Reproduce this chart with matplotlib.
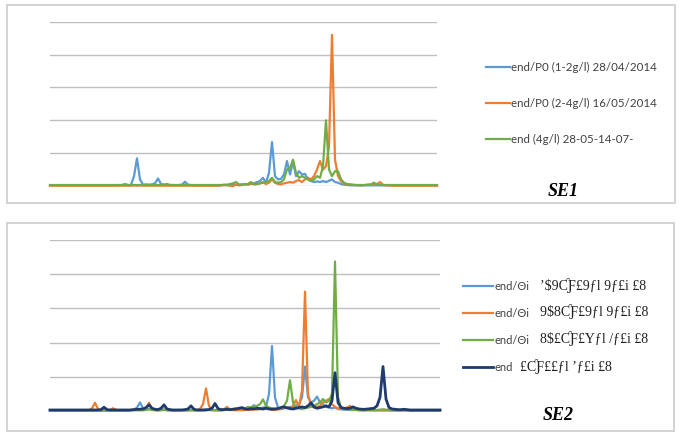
import numpy as np
import matplotlib
matplotlib.use("Agg")
import matplotlib.pyplot as plt
from matplotlib.patches import Rectangle

# colours (Excel default palette)
c_blue = '#5B9BD5'
c_orange = '#ED7D31'
c_green = '#70AD47'
c_navy = '#1F3A6E'

# ---- SE1 (top panel), 130 samples ----
se1_labels = ['end/P0 (1-2g/l) 28/04/2014',
              'end/P0 (2-4g/l) 16/05/2014',
              'end (4g/l) 28-05-14-07-']

se1_blue = [
    0.02, 0.02, 0.02, 0.02, 0.02, 0.02, 0.02, 0.02, 0.02, 0.02,
    0.02, 0.02, 0.02, 0.02, 0.02, 0.02, 0.02, 0.02, 0.02, 0.02,
    0.02, 0.02, 0.02, 0.03, 0.03, 0.06, 0.03, 0.03, 0.30, 0.84,
    0.20, 0.04, 0.05, 0.04, 0.05, 0.08, 0.23, 0.06, 0.04, 0.03,
    0.03, 0.03, 0.02, 0.03, 0.04, 0.13, 0.04, 0.03, 0.02, 0.02,
    0.02, 0.02, 0.02, 0.02, 0.02, 0.02, 0.02, 0.02, 0.03, 0.03,
    0.03, 0.04, 0.04, 0.03, 0.05, 0.06, 0.05, 0.06, 0.08, 0.12,
    0.15, 0.25, 0.10, 0.40, 1.34, 0.30, 0.20, 0.22, 0.35, 0.76,
    0.35, 0.74, 0.30, 0.45, 0.35, 0.37, 0.20, 0.15, 0.12, 0.14,
    0.12, 0.15, 0.12, 0.16, 0.20, 0.12, 0.10, 0.06, 0.04, 0.03,
    0.02, 0.02, 0.02, 0.02, 0.02, 0.02, 0.02, 0.02, 0.02, 0.02,
    0.02, 0.02, 0.02, 0.02, 0.02, 0.02, 0.02, 0.02, 0.02, 0.02,
    0.02, 0.02, 0.02, 0.02, 0.02, 0.02, 0.02, 0.02, 0.02, 0.02,
]
se1_orange = [
    0.01, 0.01, 0.01, 0.01, 0.01, 0.01, 0.01, 0.01, 0.01, 0.01,
    0.01, 0.01, 0.01, 0.01, 0.01, 0.01, 0.01, 0.01, 0.01, 0.01,
    0.01, 0.01, 0.01, 0.01, 0.01, 0.01, 0.01, 0.01, 0.02, 0.01,
    0.02, 0.01, 0.01, 0.01, 0.01, 0.01, 0.01, 0.01, 0.01, 0.01,
    0.01, 0.01, 0.01, 0.01, 0.01, 0.01, 0.01, 0.01, 0.01, 0.01,
    0.01, 0.01, 0.01, 0.01, 0.01, 0.01, 0.01, 0.02, 0.03, 0.02,
    0.01, 0.00, 0.04, 0.02, 0.03, 0.06, 0.04, 0.08, 0.05, 0.06,
    0.08, 0.12, 0.06, 0.10, 0.20, 0.10, 0.06, 0.05, 0.08, 0.10,
    0.12, 0.10, 0.15, 0.18, 0.12, 0.20, 0.25, 0.20, 0.30, 0.50,
    0.76, 0.50, 0.60, 1.20, 4.60, 0.80, 0.30, 0.15, 0.08, 0.05,
    0.04, 0.03, 0.03, 0.02, 0.02, 0.03, 0.04, 0.03, 0.04, 0.06,
    0.12, 0.04, 0.02, 0.02, 0.01, 0.01, 0.01, 0.01, 0.01, 0.01,
    0.01, 0.01, 0.01, 0.01, 0.01, 0.01, 0.01, 0.01, 0.01, 0.01,
]
se1_green = [
    0.03, 0.03, 0.03, 0.03, 0.03, 0.03, 0.03, 0.03, 0.03, 0.03,
    0.03, 0.03, 0.03, 0.03, 0.03, 0.03, 0.03, 0.03, 0.03, 0.03,
    0.03, 0.03, 0.03, 0.03, 0.03, 0.03, 0.03, 0.03, 0.03, 0.03,
    0.03, 0.03, 0.03, 0.03, 0.03, 0.03, 0.03, 0.03, 0.04, 0.06,
    0.03, 0.03, 0.03, 0.03, 0.03, 0.03, 0.03, 0.03, 0.03, 0.03,
    0.03, 0.03, 0.03, 0.03, 0.03, 0.03, 0.03, 0.03, 0.04, 0.04,
    0.06, 0.08, 0.12, 0.05, 0.04, 0.05, 0.06, 0.12, 0.05, 0.06,
    0.08, 0.10, 0.12, 0.15, 0.25, 0.12, 0.10, 0.12, 0.20, 0.50,
    0.55, 0.80, 0.40, 0.25, 0.30, 0.25, 0.20, 0.15, 0.20, 0.30,
    0.25, 0.60, 2.00, 0.50, 0.30, 0.45, 0.45, 0.20, 0.10, 0.06,
    0.05, 0.04, 0.03, 0.03, 0.03, 0.03, 0.04, 0.05, 0.10, 0.04,
    0.03, 0.03, 0.03, 0.03, 0.03, 0.03, 0.03, 0.03, 0.03, 0.03,
    0.03, 0.03, 0.03, 0.03, 0.03, 0.03, 0.03, 0.03, 0.03, 0.03,
]

# ---- SE2 (bottom panel), 131 samples ----
se2_head = ['end/Θi', 'end/Θi', 'end/Θi', 'end']
se2_tail = ['ʼ$9ƇƑ£9ƒl 9ƒ£i £8',
            '9$8ƇƑ£9ƒl 9ƒ£i £8',
            '8$£ƇƑ£Yƒl /ƒ£i £8',
            '£ƇƑ££ƒl ʼƒ£i £8']

se2_blue = [
    0.02, 0.02, 0.02, 0.02, 0.02, 0.02, 0.02, 0.02, 0.02, 0.02,
    0.02, 0.02, 0.02, 0.02, 0.02, 0.03, 0.02, 0.02, 0.02, 0.02,
    0.02, 0.03, 0.02, 0.02, 0.02, 0.02, 0.02, 0.03, 0.04, 0.10,
    0.25, 0.08, 0.04, 0.06, 0.04, 0.03, 0.04, 0.06, 0.04, 0.03,
    0.02, 0.02, 0.02, 0.03, 0.03, 0.02, 0.02, 0.03, 0.03, 0.02,
    0.02, 0.03, 0.05, 0.03, 0.02, 0.03, 0.03, 0.02, 0.03, 0.04,
    0.03, 0.03, 0.04, 0.05, 0.06, 0.05, 0.08, 0.10, 0.17, 0.10,
    0.08, 0.10, 0.12, 0.50, 1.90, 0.40, 0.10, 0.06, 0.08, 0.10,
    0.12, 0.10, 0.15, 0.20, 0.40, 1.30, 0.40, 0.25, 0.30, 0.42,
    0.25, 0.20, 0.12, 0.10, 0.08, 0.10, 0.06, 0.05, 0.04, 0.04,
    0.03, 0.03, 0.03, 0.02, 0.02, 0.02, 0.02, 0.02, 0.02, 0.02,
    0.02, 0.02, 0.02, 0.02, 0.02, 0.02, 0.02, 0.02, 0.02, 0.02,
    0.02, 0.02, 0.02, 0.02, 0.02, 0.02, 0.02, 0.02, 0.02, 0.02,
    0.02,
]
se2_orange = [
    0.02, 0.02, 0.02, 0.02, 0.02, 0.02, 0.02, 0.02, 0.02, 0.02,
    0.02, 0.02, 0.02, 0.02, 0.08, 0.24, 0.06, 0.02, 0.02, 0.02,
    0.03, 0.08, 0.03, 0.02, 0.02, 0.02, 0.02, 0.03, 0.05, 0.04,
    0.05, 0.04, 0.06, 0.24, 0.06, 0.03, 0.02, 0.03, 0.04, 0.03,
    0.02, 0.02, 0.02, 0.02, 0.02, 0.03, 0.02, 0.02, 0.02, 0.03,
    0.06, 0.20, 0.66, 0.15, 0.03, 0.02, 0.02, 0.03, 0.05, 0.12,
    0.04, 0.03, 0.02, 0.03, 0.02, 0.03, 0.04, 0.03, 0.05, 0.04,
    0.06, 0.08, 0.10, 0.06, 0.04, 0.03, 0.05, 0.06, 0.08, 0.10,
    0.08, 0.15, 0.32, 0.12, 0.60, 3.49, 0.50, 0.15, 0.10, 0.12,
    0.15, 0.25, 0.30, 0.35, 0.20, 0.12, 0.08, 0.06, 0.08, 0.10,
    0.15, 0.06, 0.04, 0.03, 0.02, 0.02, 0.03, 0.02, 0.02, 0.02,
    0.02, 0.02, 0.02, 0.02, 0.02, 0.02, 0.02, 0.02, 0.02, 0.02,
    0.02, 0.02, 0.02, 0.02, 0.02, 0.02, 0.02, 0.02, 0.02, 0.02,
    0.02,
]
se2_green = [
    0.01, 0.01, 0.01, 0.01, 0.01, 0.01, 0.01, 0.01, 0.01, 0.01,
    0.01, 0.01, 0.01, 0.01, 0.01, 0.01, 0.01, 0.01, 0.01, 0.01,
    0.01, 0.01, 0.01, 0.01, 0.01, 0.01, 0.01, 0.02, 0.02, 0.02,
    0.02, 0.02, 0.03, 0.05, 0.03, 0.02, 0.02, 0.02, 0.03, 0.02,
    0.02, 0.02, 0.02, 0.02, 0.02, 0.02, 0.02, 0.03, 0.02, 0.02,
    0.02, 0.02, 0.03, 0.05, 0.03, 0.02, 0.02, 0.02, 0.03, 0.04,
    0.05, 0.06, 0.08, 0.06, 0.07, 0.08, 0.12, 0.10, 0.12, 0.15,
    0.20, 0.34, 0.15, 0.10, 0.08, 0.06, 0.08, 0.10, 0.15, 0.30,
    0.90, 0.25, 0.10, 0.08, 0.06, 0.08, 0.10, 0.12, 0.15, 0.20,
    0.25, 0.35, 0.25, 0.30, 0.50, 4.37, 0.40, 0.10, 0.06, 0.05,
    0.04, 0.04, 0.03, 0.03, 0.04, 0.03, 0.03, 0.04, 0.03, 0.03,
    0.04, 0.05, 0.04, 0.03, 0.02, 0.02, 0.02, 0.02, 0.02, 0.02,
    0.01, 0.01, 0.01, 0.01, 0.01, 0.01, 0.01, 0.01, 0.01, 0.01,
    0.01,
]
se2_navy = [
    0.03, 0.03, 0.03, 0.03, 0.03, 0.03, 0.03, 0.03, 0.03, 0.03,
    0.03, 0.03, 0.03, 0.03, 0.03, 0.03, 0.03, 0.04, 0.11, 0.04,
    0.03, 0.03, 0.03, 0.03, 0.03, 0.03, 0.03, 0.03, 0.04, 0.05,
    0.05, 0.06, 0.10, 0.18, 0.08, 0.05, 0.04, 0.08, 0.18, 0.06,
    0.04, 0.03, 0.03, 0.03, 0.03, 0.04, 0.06, 0.15, 0.05, 0.03,
    0.03, 0.03, 0.03, 0.04, 0.08, 0.22, 0.07, 0.04, 0.04, 0.05,
    0.04, 0.05, 0.06, 0.08, 0.10, 0.06, 0.05, 0.07, 0.06, 0.08,
    0.07, 0.06, 0.08, 0.06, 0.05, 0.06, 0.07, 0.10, 0.12, 0.09,
    0.07, 0.06, 0.08, 0.10, 0.12, 0.10, 0.15, 0.24, 0.12, 0.08,
    0.10, 0.12, 0.15, 0.12, 0.30, 1.12, 0.25, 0.10, 0.08, 0.07,
    0.08, 0.12, 0.08, 0.06, 0.05, 0.05, 0.06, 0.07, 0.08, 0.15,
    0.40, 1.30, 0.35, 0.10, 0.06, 0.05, 0.04, 0.04, 0.05, 0.04,
    0.03, 0.03, 0.03, 0.03, 0.03, 0.03, 0.03, 0.03, 0.03, 0.03,
    0.03,
]

W, H = 684, 438
fig = plt.figure(figsize=(W / 100, H / 100), dpi=100)
txt_col = '#404040'


def fx(px):
    return px / W


def fy(py):
    return 1 - py / H


# panel frames
for top, bot, right in [(5, 202.7, 675), (222.7, 431, 674)]:
    fig.add_artist(Rectangle((fx(6.7), fy(bot)), fx(right) - fx(6.7), fy(top) - fy(bot),
                             transform=fig.transFigure, fill=False,
                             edgecolor='#D0D0D0', linewidth=1.3))


def setup(ax, n):
    ax.set_xlim(0, n - 1)
    ax.set_ylim(0, 5)
    for g in range(6):
        ax.axhline(g, color='#BFBFBF', linewidth=1.0, zorder=0)
    for s in ax.spines.values():
        s.set_visible(False)
    ax.set_xticks([])
    ax.set_yticks([])
    ax.patch.set_alpha(0)


# top panel
ax1 = fig.add_axes([fx(50), fy(186), fx(437) - fx(50), fy(21.7) - fy(186)])
setup(ax1, len(se1_blue))
x1 = np.arange(len(se1_blue))
h1 = []
for vals, col, lab in zip([se1_blue, se1_orange, se1_green],
                          [c_blue, c_orange, c_green], se1_labels):
    ln, = ax1.plot(x1, vals, color=col, linewidth=1.6, label=lab, clip_on=False)
    h1.append(ln)
leg1 = ax1.legend(handles=h1, loc='upper left', bbox_to_anchor=(fx(486), fy(62)),
                  bbox_transform=fig.transFigure, frameon=False, borderpad=0,
                  borderaxespad=0, handlelength=2.1, handletextpad=0.05,
                  labelspacing=2.17, prop={'family': 'Lato', 'size': 8.3})
for t in leg1.get_texts():
    t.set_color(txt_col)
fig.text(fx(563), fy(192), 'SE1', ha='center', va='center',
         family='Liberation Serif', weight='bold', style='italic', size=13)

# bottom panel
ax2 = fig.add_axes([fx(50), fy(411), fx(440) - fx(50), fy(240) - fy(411)])
setup(ax2, len(se2_blue))
x2 = np.arange(len(se2_blue))
h2 = []
for vals, col, lab, lw in zip([se2_blue, se2_orange, se2_green, se2_navy],
                              [c_blue, c_orange, c_green, c_navy], se2_head,
                              [1.6, 1.6, 1.6, 2.0]):
    ln, = ax2.plot(x2, vals, color=col, linewidth=lw, label=lab, clip_on=False)
    h2.append(ln)
leg2 = ax2.legend(handles=h2, loc='upper left', bbox_to_anchor=(fx(463), fy(280.5)),
                  bbox_transform=fig.transFigure, frameon=False, borderpad=0,
                  borderaxespad=0, handlelength=2.7, handletextpad=0.1,
                  labelspacing=1.45, prop={'family': 'Lato', 'size': 8})
for t in leg2.get_texts():
    t.set_color(txt_col)
for yy, xs, tail in zip([285.7, 311.7, 339, 366.7], [540, 540, 540, 520], se2_tail):
    fig.text(fx(xs), fy(yy), tail, ha='left', va='center', color='#202020',
             family='Liberation Serif', size=10)
fig.text(fx(558), fy(415), 'SE2', ha='center', va='center',
         family='Liberation Serif', weight='bold', style='italic', size=13)

fig.savefig('out.png', dpi=100)
